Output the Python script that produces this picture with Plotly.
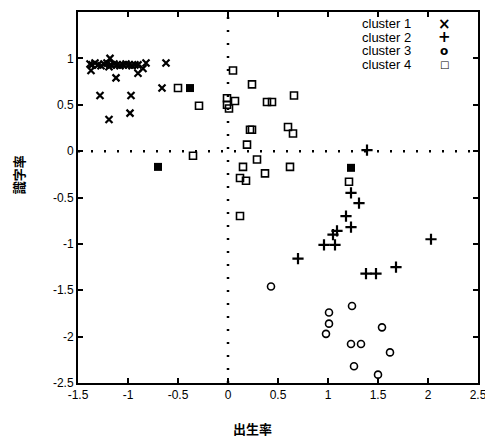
import plotly.graph_objects as go

# cluster 1 (x markers)
c1_x = [-1.38, -1.36, -1.33, -1.30, -1.27, -1.24, -1.21, -1.19, -1.17, -1.14, -1.11, -1.08,
        -1.05, -1.02, -0.99, -0.96, -0.93, -0.90, -1.37, -1.18, -1.12, -0.90, -0.85, -0.82,
        -0.62, -1.28, -0.97, -1.19, -0.98, -0.66]
c1_y = [0.94, 0.93, 0.95, 0.93, 0.92, 0.94, 0.95, 0.91, 0.93, 0.94, 0.93, 0.92,
        0.93, 0.94, 0.93, 0.92, 0.93, 0.93, 0.87, 1.00, 0.79, 0.84, 0.89, 0.95,
        0.95, 0.60, 0.60, 0.34, 0.41, 0.68]

# cluster 2 (+ markers)
c2_x = [1.39, 1.23, 1.31, 1.18, 1.23, 1.09, 1.05, 0.96, 1.07, 0.70, 2.03, 1.38, 1.48, 1.68]
c2_y = [0.01, -0.45, -0.56, -0.70, -0.82, -0.86, -0.90, -1.01, -1.01, -1.16, -0.95, -1.32, -1.32, -1.25]

# cluster 3 (open circles)
c3_x = [0.43, 1.24, 1.01, 1.01, 0.98, 1.54, 1.23, 1.33, 1.62, 1.26, 1.50]
c3_y = [-1.46, -1.67, -1.74, -1.86, -1.97, -1.90, -2.08, -2.08, -2.17, -2.32, -2.41]

# cluster 4 (open squares)
c4_x = [-0.50, -0.29, -0.35, 0.05, -0.01, -0.01, 0.07, 0.01, 0.24, 0.39, 0.44, 0.66,
        0.60, 0.65, 0.22, 0.24, 0.19, 0.29, 0.15, 0.37, 0.62, 0.12, 0.18, 0.12, 1.21]
c4_y = [0.68, 0.49, -0.05, 0.87, 0.57, 0.50, 0.54, 0.46, 0.72, 0.53, 0.53, 0.60,
        0.26, 0.19, 0.23, 0.23, 0.07, -0.09, -0.17, -0.24, -0.17, -0.29, -0.32, -0.70, -0.33]

# filled squares
fs_x = [-0.38, -0.70, 1.23]
fs_y = [0.68, -0.17, -0.18]

legend_labels = ["cluster 1", "cluster 2", "cluster 3", "cluster 4"]
legend_glyphs = ["×", "+", "o", "□"]
legend_glyph_sizes = [15, 15, 12, 10]

x_ticks = [-1.5, -1, -0.5, 0, 0.5, 1, 1.5, 2, 2.5]
y_ticks = [1.5, 1, 0.5, 0, -0.5, -1, -1.5, -2, -2.5]

fig = go.Figure()
fig.add_trace(go.Scatter(x=c1_x, y=c1_y, mode="markers", name=legend_labels[0],
                         marker=dict(symbol="x-thin", size=7, line=dict(color="black", width=2.2))))
fig.add_trace(go.Scatter(x=c2_x, y=c2_y, mode="markers", name=legend_labels[1],
                         marker=dict(symbol="cross-thin", size=8, line=dict(color="black", width=2.2))))
fig.add_trace(go.Scatter(x=c3_x, y=c3_y, mode="markers", name=legend_labels[2],
                         marker=dict(symbol="circle-open", size=7, color="black", line=dict(width=1.6))))
fig.add_trace(go.Scatter(x=c4_x, y=c4_y, mode="markers", name=legend_labels[3],
                         marker=dict(symbol="square-open", size=7, color="black", line=dict(width=1.6))))
fig.add_trace(go.Scatter(x=fs_x, y=fs_y, mode="markers", showlegend=False,
                         marker=dict(symbol="square", size=8, color="black")))

fig.add_hline(y=0, line=dict(color="black", width=2.5, dash="2px,11px"))
fig.add_vline(x=0, line=dict(color="black", width=2.5, dash="2px,11px"))

for i, (lab, g, gs) in enumerate(zip(legend_labels, legend_glyphs, legend_glyph_sizes)):
    yy = 0.969 - i * 0.0367
    fig.add_annotation(xref="paper", yref="paper", x=0.8375, y=yy, text=lab,
                       showarrow=False, xanchor="right", yanchor="middle",
                       font=dict(family="Liberation Sans", size=13, color="black"))
    fig.add_annotation(xref="paper", yref="paper", x=0.915, y=yy, text="<b>%s</b>" % g,
                       showarrow=False, xanchor="center", yanchor="middle",
                       font=dict(family="DejaVu Sans", size=gs, color="black"))

fig.add_annotation(xref="paper", yref="paper", x=-0.15, y=0.56, text="<b>識字率</b>",
                   textangle=-90, showarrow=False, xanchor="center", yanchor="middle",
                   font=dict(family="Noto Sans CJK JP", size=13, color="black"))
fig.add_annotation(xref="paper", yref="paper", x=0.435, y=-0.122, text="<b>出生率</b>",
                   showarrow=False, xanchor="center", yanchor="middle",
                   font=dict(family="Noto Sans CJK JP", size=13, color="black"))

axis_common = dict(showgrid=False, zeroline=False, showline=True, linecolor="black", linewidth=2,
                   mirror="ticks", ticks="inside", ticklen=5, tickwidth=2, tickcolor="black",
                   tickfont=dict(family="Liberation Sans", size=12, color="black"))
fig.update_xaxes(range=[-1.5, 2.5], tickvals=x_ticks, ticktext=[f"{v:g}" for v in x_ticks], **axis_common)
fig.update_yaxes(range=[-2.5, 1.5], tickvals=y_ticks, ticktext=[f"{v:g}" for v in y_ticks], **axis_common)

# page body adds an 8px offset, so the figure is sized to fit the window
fig.update_layout(width=485, height=429, showlegend=False,
                  margin=dict(l=70, r=15, t=2, b=54),
                  plot_bgcolor="white", paper_bgcolor="white")

fig.write_html("out.html")
